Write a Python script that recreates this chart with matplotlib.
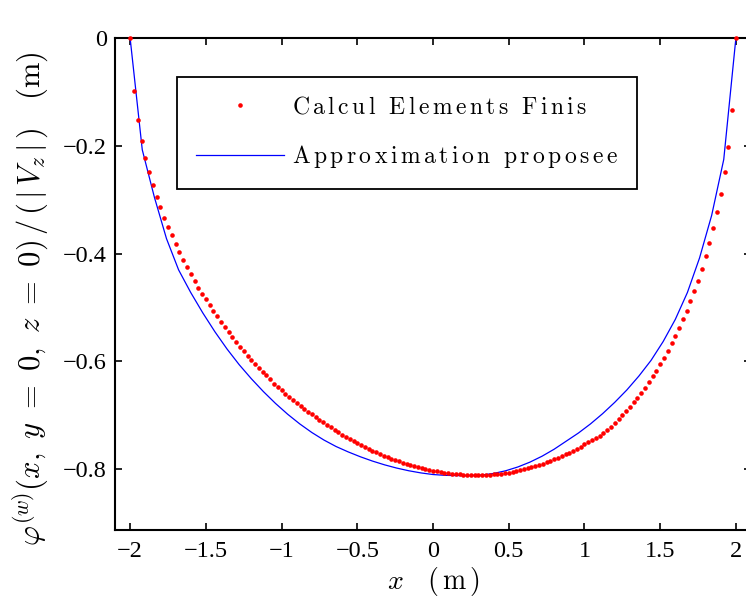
import numpy as np
import matplotlib
matplotlib.use('Agg')
import matplotlib.pyplot as plt

plt.rcParams['mathtext.fontset'] = 'cm'
plt.rcParams['font.family'] = ['Liberation Serif', 'DejaVu Serif']

# finite element result, x from -2 to 2 every 0.025 m
x_fe = np.linspace(-2.0, 2.0, 161)
y_fe = [0.0, -0.097, -0.152, -0.190, -0.222, -0.249, -0.273, -0.294, -0.314, -0.333,
        -0.350, -0.366, -0.382, -0.397, -0.411, -0.425, -0.438, -0.451, -0.463, -0.474,
        -0.485, -0.4955, -0.506, -0.516, -0.526, -0.5355, -0.545, -0.5545, -0.5635, -0.5725,
        -0.581, -0.589, -0.597, -0.6045, -0.612, -0.619, -0.626, -0.6335, -0.641, -0.6477,
        -0.6538, -0.6598, -0.6657, -0.6714, -0.6771, -0.6826, -0.688, -0.6933, -0.6985, -0.7035,
        -0.7085, -0.7133, -0.718, -0.7226, -0.7271, -0.7314, -0.7357, -0.7398, -0.7438, -0.7477,
        -0.7515, -0.7551, -0.7587, -0.7621, -0.7654, -0.7686, -0.7717, -0.7747, -0.7775, -0.7803,
        -0.7829, -0.7854, -0.7877, -0.790, -0.7922, -0.7942, -0.7961, -0.7979, -0.7996, -0.8012,
        -0.8026, -0.804, -0.8052, -0.8063, -0.8073, -0.8082, -0.8089, -0.8095, -0.8101, -0.8105,
        -0.8108, -0.8109, -0.811, -0.8109, -0.8107, -0.8103, -0.8098, -0.8092, -0.8084, -0.8074,
        -0.8064, -0.8051, -0.8038, -0.8022, -0.8006, -0.7988, -0.7968, -0.7947, -0.7924, -0.7901,
        -0.7875, -0.7848, -0.782, -0.779, -0.7759, -0.7727, -0.7692, -0.7657, -0.762, -0.7582,
        -0.7542, -0.750, -0.7458, -0.7413, -0.738, -0.7326, -0.727, -0.721, -0.714, -0.707,
        -0.700, -0.692, -0.684, -0.676, -0.667, -0.658, -0.6485, -0.638, -0.627, -0.617,
        -0.605, -0.593, -0.580, -0.566, -0.553, -0.538, -0.522, -0.506, -0.488, -0.470,
        -0.450, -0.428, -0.405, -0.381, -0.353, -0.323, -0.289, -0.249, -0.202, -0.134,
        0.0]

# proposed approximation, every 0.08 m
x_ap = np.linspace(-2.0, 2.0, 51)
y_ap = [0.0, -0.207, -0.295, -0.372, -0.430, -0.472, -0.510, -0.545, -0.577, -0.606,
        -0.632, -0.656, -0.678, -0.698, -0.716, -0.732, -0.746, -0.758, -0.768, -0.777,
        -0.785, -0.792, -0.798, -0.803, -0.807, -0.810, -0.8115, -0.812, -0.812, -0.811,
        -0.808, -0.803, -0.796, -0.787, -0.776, -0.763, -0.748, -0.733, -0.716, -0.697,
        -0.676, -0.653, -0.627, -0.598, -0.563, -0.522, -0.472, -0.408, -0.329, -0.225,
        0.0]

xticks = [-2, -1.5, -1, -0.5, 0, 0.5, 1, 1.5, 2]
xticklabels = ['\u22122', '\u22121.5', '\u22121', '\u22120.5', '0', '0.5', '1', '1.5', '2']
yticks = [0, -0.2, -0.4, -0.6, -0.8]
yticklabels = ['0', '\u22120.2', '\u22120.4', '\u22120.6', '\u22120.8']
labels = ['Calcul Elements Finis', 'Approximation proposee']


def spaced(txt):
    ''' roman mathtext with loose letter spacing '''
    words = txt.split(' ')
    return '$' + r'\ \ '.join(r'\,'.join(r'\mathrm{%s}' % c for c in w) for w in words) + '$'


fig = plt.figure(figsize=(7.46, 6.08), dpi=100)
ax = fig.add_axes([0.15416, 0.12829, 0.85255, 0.80872])

ax.plot(x_fe, y_fe, 'o', color='#ff0000', markersize=3.3, markeredgewidth=0,
        label=spaced(labels[0]), clip_on=False, zorder=3)
ax.plot(x_ap, y_ap, '-', color='#0000ff', linewidth=0.9,
        label=spaced(labels[1]), zorder=2)

ax.set_xlim(-2.1, 2.1)
ax.set_ylim(-0.913, 0)
ax.set_xticks(xticks)
ax.set_xticklabels(xticklabels)
ax.set_yticks(yticks)
ax.set_yticklabels(yticklabels)
ax.tick_params(direction='in', top=True, right=True, length=5, width=1.2,
               labelsize=17.5)
ax.tick_params(axis='x', pad=8)
ax.tick_params(axis='y', pad=6)
for s in ax.spines.values():
    s.set_linewidth(1.5)

ax.set_xlabel(r'$x\ \ \ (\,\mathrm{m}\,)$', fontsize=20, labelpad=2)
ax.set_ylabel(r'$\varphi^{(w)}(x,\ y\ =\ 0,\ z\ =\ 0)\,/\,(\,|\,V_z\,|\,)\ \ \ (\mathrm{m})$',
              fontsize=22)
ax.yaxis.set_label_coords(-0.1, 0.47)

leg = ax.legend(loc='upper left', bbox_to_anchor=(0.098, 0.9207), borderaxespad=0,
                fontsize=17, numpoints=1, handlelength=3.7, fancybox=False,
                framealpha=1, edgecolor='black', borderpad=0.8, labelspacing=1.05,
                handletextpad=0.35)
leg.get_frame().set_linewidth(1.3)

plt.savefig('out.png', dpi=100)
plt.close()
